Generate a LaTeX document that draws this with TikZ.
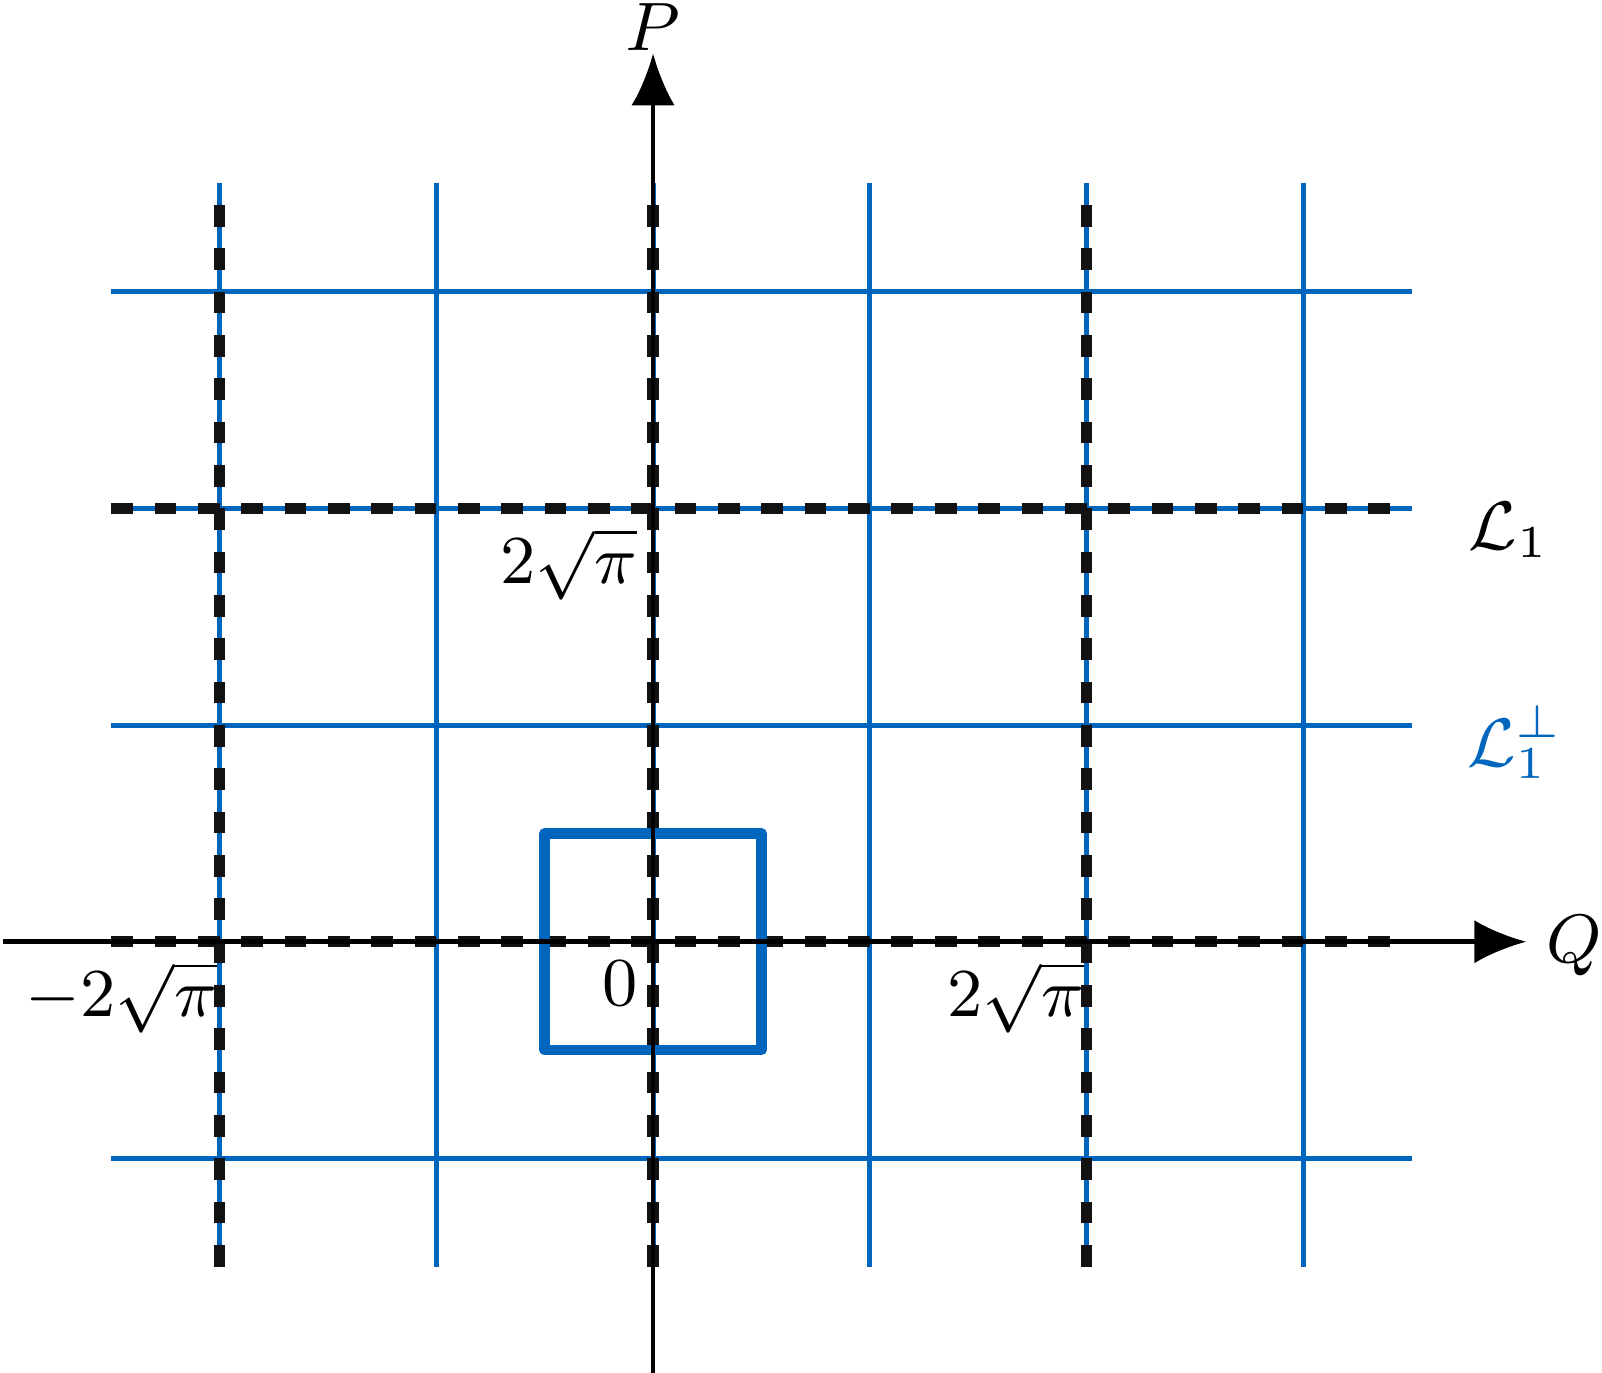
\documentclass[tikz,border=0pt]{standalone}
\usepackage{amsmath,amsfonts,amssymb}
\usetikzlibrary{arrows.meta}
\definecolor{gridblue}{RGB}{0,101,189}
\begin{document}
\begin{tikzpicture}[
		blue_line/.style={draw=gridblue,line width=0.65pt},
		dash_line/.style={draw=black!93,line width=1.5pt,dash pattern=on 0.1cm off 0.1cm},
		axis_style/.style={draw=black,line width=0.6pt,-{Latex[length=0.24cm,width=0.2cm]}},
		lab/.style={font=\small,inner sep=1pt}]
	\useasboundingbox (-3.014,-1.986) rectangle (4.379,4.346);

	% lattice
	\foreach \x in {-2,...,3}
		\draw[blue_line] (\x,-1.5) -- (\x,3.5);
	\foreach \y in {-1,...,3}
		\draw[blue_line] (-2.5,\y) -- (3.5,\y);

	% dashed sublattice
	\foreach \x in {-2,0,2}
		\draw[dash_line] (\x,-1.5) -- (\x,3.5);
	\foreach \y in {0,2}
		\draw[dash_line] (-2.5,\y) -- (3.5,\y);

	% cell
	\draw[draw=gridblue,line width=1.4pt,line join=round] (-0.5,-0.5) rectangle (0.5,0.5);

	% axes
	\coordinate (q0) at (-3.0,0);
	\node[lab] (qq) at (4.25,-0.02) {$Q$};
	\coordinate (qend) at (4.03,0);
	\draw[axis_style] (q0) -- (qend);
	\coordinate (p0) at (0,-1.99);
	\coordinate (pend) at (0,4.1);
	\node[lab] (pp) at (0,4.22) {$P$};
	\draw[axis_style] (p0) -- (pend);

	% labels
	\node[lab,anchor=north east] (l0) at (-0.03,-0.05) {$0$};
	\node[lab,anchor=north east] (lm) at (-1.97,-0.05) {$-2\sqrt{\pi}$};
	\node[lab,anchor=north east] (lp) at (2.03,-0.05) {$2\sqrt{\pi}$};
	\node[lab,anchor=north east] (lt) at (-0.03,1.95) {$2\sqrt{\pi}$};
	\node[lab] (L1) at (3.95,1.9) {$\mathcal{L}_1$};
	\node[lab,text=gridblue] (L1p) at (3.98,0.92) {$\mathcal{L}_1^\perp$};
\end{tikzpicture}
\end{document}
